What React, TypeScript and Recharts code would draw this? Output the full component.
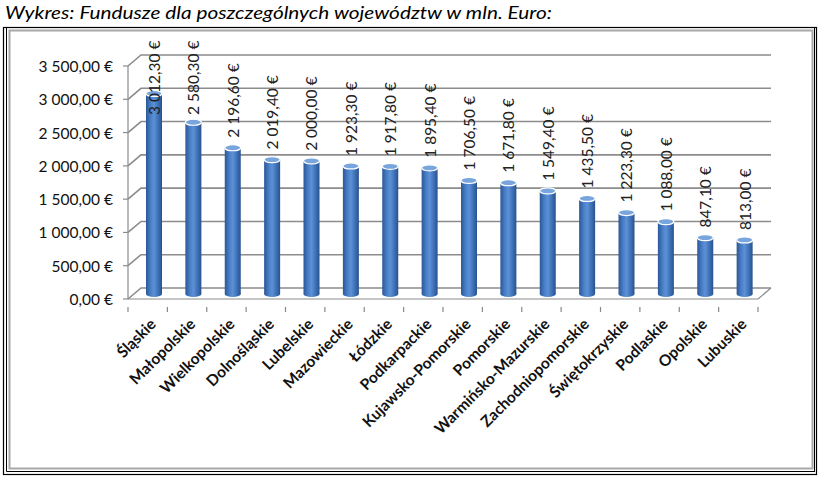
import React from "react";
import { BarChart, Bar, XAxis, YAxis, CartesianGrid, LabelList } from "recharts";

const categories = [
  "Śląskie", "Małopolskie", "Wielkopolskie", "Dolnośląskie", "Lubelskie",
  "Mazowieckie", "Łódzkie", "Podkarpackie", "Kujawsko-Pomorskie", "Pomorskie",
  "Warmińsko-Mazurskie", "Zachodniopomorskie", "Świętokrzyskie", "Podlaskie",
  "Opolskie", "Lubuskie",
];
const values = [
  3012.3, 2580.3, 2196.6, 2019.4, 2000.0, 1923.3, 1917.8, 1895.4,
  1706.5, 1671.8, 1549.4, 1435.5, 1223.3, 1088.0, 847.1, 813.0,
];
const yTicks = [0, 500, 1000, 1500, 2000, 2500, 3000, 3500];
const title = "Wykres: Fundusze dla poszczególnych województw w mln. Euro:";

const data = categories.map((name, i) => ({ name, value: values[i] }));

const DX = 6;
const DY = -5;
const BX = 13;
const BY = -11;

const fmt = (v: number) => {
  const fixed = v.toFixed(2);
  const [intPart, dec] = fixed.split(".");
  const withSpaces = intPart.replace(/\B(?=(\d{3})+(?!\d))/g, " ");
  return `${withSpaces},${dec} €`;
};

const Cylinder = (props: any) => {
  const { x, y, width, height } = props;
  if (height == null || width == null) return null;
  const left = x + DX;
  const top = y + DY;
  const bottom = y + height + DY;
  const cx = left + width / 2;
  const rx = width / 2;
  const ry = 3;
  return (
    <g>
      <ellipse cx={cx} cy={bottom} rx={rx} ry={ry} fill="url(#cylGrad)" />
      <rect x={left} y={top} width={width} height={bottom - top} fill="url(#cylGrad)" />
      <ellipse cx={cx} cy={top} rx={rx} ry={ry} fill="#79a5dd" stroke="#ffffff" strokeWidth={1.2} />
    </g>
  );
};

const ValueLabel = (props: any) => {
  const { x, y, width, value } = props;
  const cx = x + width / 2 + DX;
  const top = y + DY;
  const by = Math.max(top - 10, 115);
  return (
    <text
      x={cx}
      y={by}
      transform={`rotate(-90, ${cx}, ${by})`}
      textAnchor="start"
      dominantBaseline="central"
      fontFamily="Lato, 'Open Sans', sans-serif"
      fontSize={15.5}
      fill="#222"
    >
      {fmt(value)}
    </text>
  );
};

const XTick = (props: any) => {
  const { x, y, payload } = props;
  const half = payload && payload.offset ? payload.offset : 19.7;
  const isFirst = payload && payload.index === 0;
  const lx = x + DX - 1;
  const ly = y + 14;
  return (
    <g>
      {isFirst && <line x1={x - half} y1={y} x2={x - half} y2={y + 5} stroke="#888" strokeWidth={1.2} />}
      <line x1={x + half} y1={y} x2={x + half} y2={y + 5} stroke="#888" strokeWidth={1.2} />
      <text
        x={lx}
        y={ly}
        transform={`rotate(-45, ${lx}, ${ly})`}
        textAnchor="end"
        dominantBaseline="central"
        fontFamily="Lato, 'Open Sans', sans-serif"
        fontWeight="bold"
        fontSize={15.5}
        fill="#111"
      >
        {payload.value}
      </text>
    </g>
  );
};

const YTick = (props: any) => {
  const { x, y, payload } = props;
  return (
    <text
      x={x}
      y={y}
      textAnchor="end"
      dominantBaseline="central"
      fontFamily="Lato, 'Open Sans', sans-serif"
      fontSize={15.5}
      fill="#111"
    >
      {fmt(payload.value)}
    </text>
  );
};

const GridLine = (props: any) => {
  const { x1, y1, x2, index } = props;
  const isBottom = Math.abs(y1 - 299) < 2;
  return (
    <g key={`g-${index}-${y1}`}>
      <path
        d={`M ${x1} ${y1} L ${x1 + BX} ${y1 + BY} L ${x2 + BX} ${y1 + BY}`}
        fill="none"
        stroke="#8c8c8c"
        strokeWidth={1.6}
      />
      {isBottom && (
        <path d={`M ${x2} ${y1} L ${x2 + BX} ${y1 + BY}`} fill="none" stroke="#8c8c8c" strokeWidth={1.2} />
      )}
    </g>
  );
};

export default function App() {
  return (
    <div style={{ position: "absolute", left: 0, top: 0, width: 822, height: 483, background: "#fff" }}>
      <svg width={822} height={483} style={{ position: "absolute", left: 0, top: 0 }}>
        <text
          x={5}
          y={19}
          fontFamily="Lato, 'Open Sans', sans-serif"
          fontStyle="italic"
          fontSize={17.5}
          fill="#000"
          textLength={547}
          lengthAdjust="spacingAndGlyphs"
        >
          {title}
        </text>
        <rect x={3.5} y={27.5} width={813} height={447} fill="none" stroke="#000" strokeWidth={1.2} />
        <line x1={6.5} y1={28} x2={6.5} y2={471.5} stroke="#000" strokeWidth={1} />
        <line x1={6.5} y1={471.5} x2={815} y2={471.5} stroke="#000" strokeWidth={1} />
        <line x1={814.5} y1={28} x2={814.5} y2={471.5} stroke="#000" strokeWidth={1} />
        <rect x={9.5} y={30.5} width={803} height={438} fill="none" stroke="#a8a8a8" strokeWidth={2} />
      </svg>
      <div style={{ position: "absolute", left: 0, top: 0 }}>
        <BarChart
          width={822}
          height={483}
          data={data}
          margin={{ top: 66, right: 64, bottom: 0, left: 0 }}
          barSize={16}
        >
          <defs>
            <linearGradient id="cylGrad" x1="0" y1="0" x2="1" y2="0">
              <stop offset="0%" stopColor="#2b5796" />
              <stop offset="30%" stopColor="#4a80c9" />
              <stop offset="50%" stopColor="#5d91d6" />
              <stop offset="75%" stopColor="#3f72b8" />
              <stop offset="100%" stopColor="#28528e" />
            </linearGradient>
          </defs>
          <CartesianGrid vertical={false} horizontal={GridLine as any} />
          <XAxis
            dataKey="name"
            interval={0}
            tickLine={false}
            axisLine={{ stroke: "#8c8c8c", strokeWidth: 1.2 }}
            tick={<XTick />}
            height={184}
          />
          <YAxis
            width={128}
            domain={[0, 3500]}
            ticks={yTicks}
            interval={0}
            tickSize={5}
            tickMargin={10}
            tickLine={{ stroke: "#8c8c8c", strokeWidth: 1.2 }}
            axisLine={{ stroke: "#8c8c8c", strokeWidth: 1.2 }}
            tick={<YTick />}
          />
          <Bar dataKey="value" shape={<Cylinder />} isAnimationActive={false}>
            <LabelList dataKey="value" content={<ValueLabel />} />
          </Bar>
        </BarChart>
      </div>
    </div>
  );
}
